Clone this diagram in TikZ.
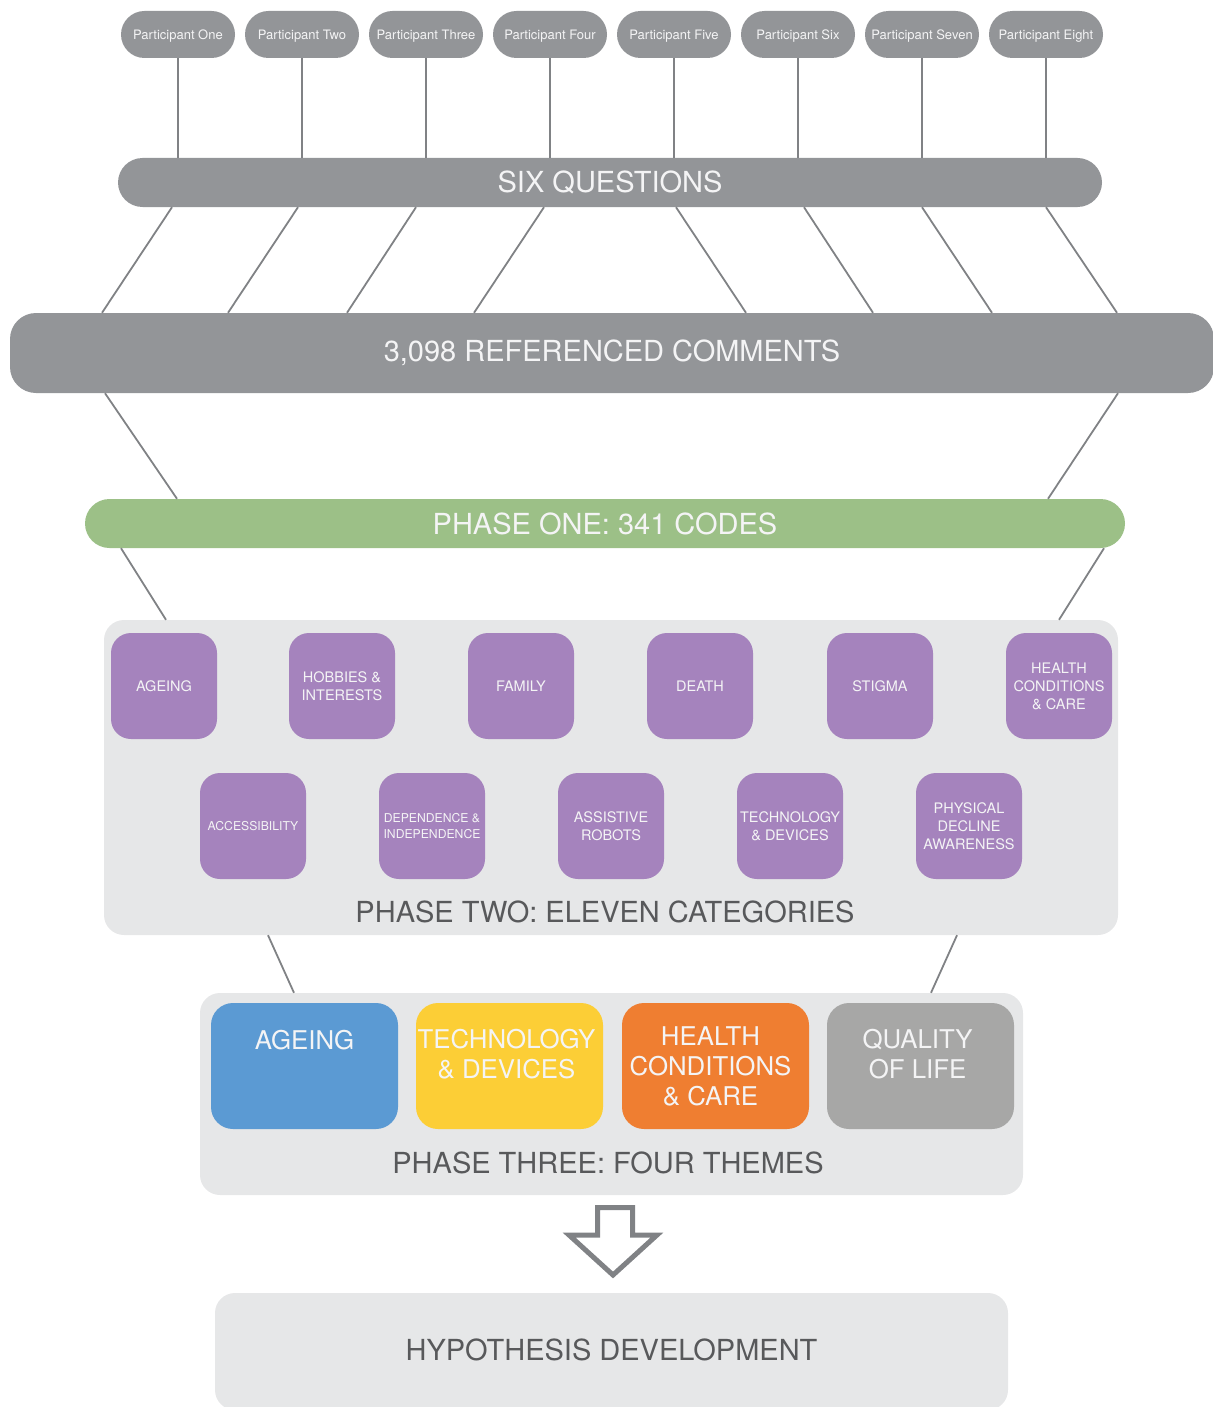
\documentclass[tikz,border=0pt]{standalone}
\usepackage{fontspec}
\setmainfont{TeX Gyre Heros}
\usetikzlibrary{calc}
\definecolor{bargray}{HTML}{939598}
\definecolor{linegray}{HTML}{808285}
\definecolor{panel}{HTML}{E6E7E8}
\definecolor{purp}{HTML}{A583BD}
\definecolor{greenbar}{HTML}{9CC087}
\definecolor{txtdark}{HTML}{58595B}
\definecolor{tblue}{HTML}{5B9AD3}
\definecolor{tyellow}{HTML}{FCCE36}
\definecolor{torange}{HTML}{EF7E31}
\definecolor{tgray}{HTML}{A7A7A6}
\definecolor{wtxt}{HTML}{F4F4F5}
\begin{document}
\begin{tikzpicture}[x=1pt,y=-1pt,
  pill/.style={fill=bargray, rounded corners=23.5pt, minimum height=47pt, minimum width=114pt, inner sep=0pt, text=wtxt, font=\fontsize{13}{15}\selectfont},
  ptxt/.style={inner sep=0pt, text=wtxt, font=\fontsize{13}{15}\selectfont},
  bar/.style={rounded corners=24.5pt, minimum height=49pt, inner sep=0pt, text=wtxt, font=\fontsize{29}{34}\selectfont},
  panelbox/.style={fill=panel, rounded corners=20pt, inner sep=0pt},
  catbox/.style={fill=purp, rounded corners=20pt, minimum width=106pt, minimum height=106pt, inner sep=0pt, align=center, text=wtxt, font=\fontsize{14.5}{18}\selectfont},
  catsmall/.style={font=\fontsize{12.2}{16}\selectfont},
  themebox/.style={rounded corners=22pt, minimum width=187pt, minimum height=126pt, inner sep=0pt},
  themetxt/.style={anchor=north, inner sep=0pt, align=center, text=wtxt, font=\fontsize{25.8}{30}\selectfont},
  bigtxt/.style={text=txtdark, inner sep=0pt, font=\fontsize{29}{34}\selectfont},
  conn/.style={draw=linegray, line width=1.8pt}
]
\useasboundingbox (0,0) rectangle (1212,1407);

% participants
\foreach \i/\t [count=\k] in {178/One,302/Two,426/Three,550/Four,674/Five,798/Six,922/Seven,1046/Eight}{
  \node[pill] (p\k) at (\i,34.5) {};
  \node[ptxt] (p\k t) at ([yshift=-1.8pt]p\k.center) {Participant \t};
}
% six questions
\node[bar, fill=bargray, minimum width=984pt] (sq) at (610,182.5) {SIX QUESTIONS};
\foreach \k in {1,...,8}{
  \draw[conn] (p\k.south) -- (p\k.south |- sq.north);
}
% comments
\node[fill=bargray, rounded corners=26pt, minimum width=1204pt, minimum height=80pt, inner sep=0pt, text=wtxt, font=\fontsize{29}{34}\selectfont] (cm) at (612,353) {3,098 REFERENCED COMMENTS};
\foreach \a/\b in {-438/-510,-312/-384,-194/-265,-66/-138,66/134,194/261,312/380,436/505}{
  \draw[conn] ([xshift=\a pt]sq.south) -- ([xshift=\b pt]cm.north);
}
% phase one
\node[bar, fill=greenbar, minimum width=1040pt] (ph1) at (605,523.5) {PHASE ONE: 341 CODES};
\draw[conn] ([xshift=-507pt]cm.south) -- ([xshift=-428pt]ph1.north);
\draw[conn] ([xshift=506pt]cm.south) -- ([xshift=443pt]ph1.north);
% phase two panel
\node[panelbox, minimum width=1014pt, minimum height=315pt] (ph2) at (611,777.5) {};
\draw[conn] ([xshift=-484pt]ph1.south) -- ([xshift=-445pt]ph2.north);
\draw[conn] ([xshift=499pt]ph1.south) -- ([xshift=448pt]ph2.north);
\node[catbox] (c1) at (164,686) {AGEING};
\node[catbox] (c2) at (342,686) {HOBBIES \&\\INTERESTS};
\node[catbox] (c3) at (521,686) {FAMILY};
\node[catbox] (c4) at (700,686) {DEATH};
\node[catbox] (c5) at (880,686) {STIGMA};
\node[catbox] (c6) at (1059,686) {HEALTH\\CONDITIONS\\\& CARE};
\node[catbox, catsmall] (c7) at (253,826) {ACCESSIBILITY};
\node[catbox, catsmall] (c8) at (432,826) {DEPENDENCE \&\\INDEPENDENCE};
\node[catbox] (c9) at (611,826) {ASSISTIVE\\ROBOTS};
\node[catbox] (c10) at (790,826) {TECHNOLOGY\\\& DEVICES};
\node[catbox] (c11) at (969,826) {PHYSICAL\\DECLINE\\AWARENESS};
\node[bigtxt] (ph2l) at (605,912) {PHASE TWO: ELEVEN CATEGORIES};
% phase three panel
\node[panelbox, minimum width=823pt, minimum height=202pt] (ph3) at (611.5,1094) {};
\draw[conn] ([xshift=-343pt]ph2.south) -- ([xshift=-317.5pt]ph3.north);
\draw[conn] ([xshift=346pt]ph2.south) -- ([xshift=319.5pt]ph3.north);
\node[themebox, fill=tblue] (t1) at (304.5,1066) {};
\node[themebox, fill=tyellow] (t2) at (509.5,1066) {};
\node[themebox, fill=torange] (t3) at (715.5,1066) {};
\node[themebox, fill=tgray] (t4) at (920.5,1066) {};
\node[themetxt] (t1l) at ([yshift=-27pt]t1.north) {AGEING};
\node[themetxt] (t2l) at ([xshift=-3pt,yshift=-26pt]t2.north) {TECHNOLOGY\\\& DEVICES};
\node[themetxt] (t3l) at ([xshift=-5pt,yshift=-24pt]t3.north) {HEALTH\\CONDITIONS\\\& CARE};
\node[themetxt] (t4l) at ([xshift=-3pt,yshift=-26pt]t4.north) {QUALITY\\OF LIFE};
\node[bigtxt] (ph3l) at (608,1163) {PHASE THREE: FOUR THEMES};
% arrow
\draw[draw=linegray, line width=5pt, line join=miter] (597.5,1207.5) -- (632.5,1207.5) -- (632.5,1235) -- (657,1235) -- (613,1275) -- (569,1235) -- (597.5,1235) -- cycle;
% hypothesis
\node[panelbox, minimum width=793pt, minimum height=117pt, text=txtdark, font=\fontsize{29}{34}\selectfont] (hy) at (611.5,1351.5) {\raisebox{3pt}{HYPOTHESIS DEVELOPMENT}};
\end{tikzpicture}
\end{document}
